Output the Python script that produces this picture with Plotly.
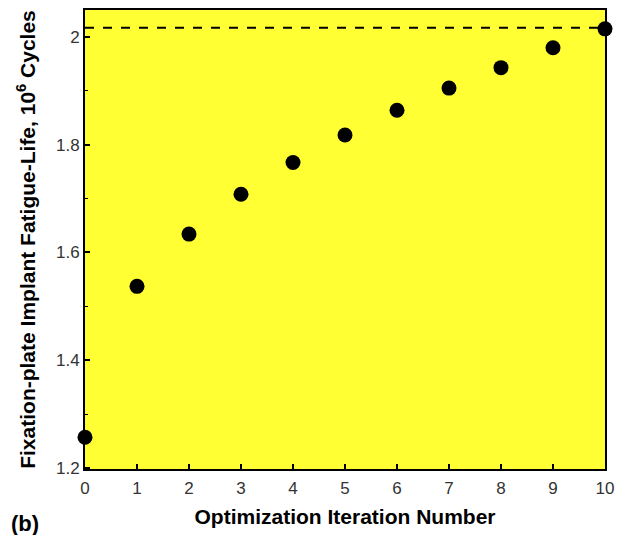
import plotly.graph_objects as go

iterations = [0, 1, 2, 3, 4, 5, 6, 7, 8, 9, 10]
fatigue_life = [1.257, 1.537, 1.634, 1.708, 1.767, 1.818, 1.864, 1.905, 1.943, 1.980, 2.015]
target_life = 2.017
x_ticks = list(range(0, 11))
y_ticks = [1.2, 1.4, 1.6, 1.8, 2.0]
y_tick_labels = ["1.2", "1.4", "1.6", "1.8", "2"]

fig = go.Figure()
fig.add_trace(go.Scatter(
    x=[0, 10], y=[target_life, target_life], mode="lines",
    line=dict(color="black", width=2, dash="dash"), showlegend=False, hoverinfo="skip"))
fig.add_trace(go.Scatter(
    x=iterations, y=fatigue_life, mode="markers",
    marker=dict(color="black", size=15), cliponaxis=False, showlegend=False))

font = "Liberation Sans, Arial, sans-serif"
fig.update_layout(
    width=622, height=535,
    margin=dict(l=85, r=10, t=8, b=66),
    paper_bgcolor="white", plot_bgcolor="#ffff33",
    font=dict(family=font, color="black"),
    annotations=[dict(text="<b>(b)</b>", xref="paper", yref="paper", x=-0.146, y=-0.118,
                      xanchor="left", yanchor="middle", showarrow=False,
                      font=dict(size=22, family=font, color="black"))],
)

fig.update_xaxes(
    range=[0, 10], tickvals=x_ticks, ticks="inside", ticklen=5, tickwidth=1.5, tickcolor="black",
    showline=True, linecolor="black", linewidth=2, mirror=True, showgrid=False, zeroline=False,
    tickfont=dict(size=17, color="#333333"), ticklabelstandoff=3,
    title=dict(text="<b>Optimization Iteration Number</b>", font=dict(size=21), standoff=12))
fig.update_yaxes(
    range=[1.198, 2.05], tickvals=y_ticks, ticktext=y_tick_labels,
    ticks="inside", ticklen=5, tickwidth=1.5, tickcolor="black",
    minor=dict(dtick=0.1, tick0=1.2, ticks="inside", ticklen=3, tickcolor="black", tickwidth=1),
    showline=True, linecolor="black", linewidth=2, mirror=True, showgrid=False, zeroline=False,
    tickfont=dict(size=17, color="#333333"),
    title=dict(text="<b>Fixation-plate Implant Fatigue-Life, 10<sup>6</sup> Cycles</b>", font=dict(size=21), standoff=15))

fig.write_html("out.html")
